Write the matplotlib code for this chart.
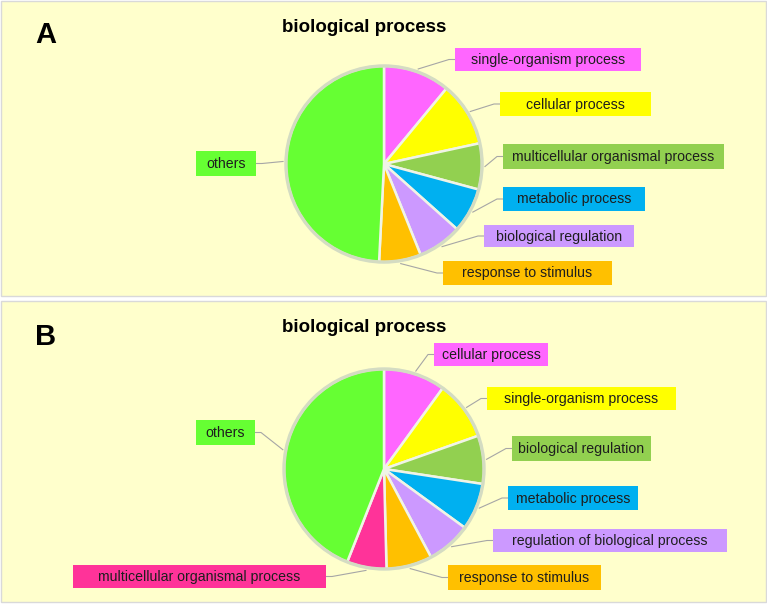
import matplotlib
matplotlib.use("Agg")
import matplotlib.pyplot as plt
import numpy as np
from matplotlib.patches import Rectangle, Circle

plt.rcParams['font.family'] = ['Liberation Sans', 'DejaVu Sans']

# ---------------- data ----------------
title = "biological process"
labels_a = ["single-organism process", "cellular process", "multicellular organismal process",
            "metabolic process", "biological regulation", "response to stimulus", "others"]
values_a = [11.0, 10.6, 7.6, 7.4, 7.3, 6.9, 49.2]
colors_a = ["#FF66FF", "#FFFF00", "#92D050", "#00B0F0", "#CC99FF", "#FFC000", "#66FF33"]

labels_b = ["cellular process", "single-organism process", "biological regulation",
            "metabolic process", "regulation of biological process", "response to stimulus",
            "multicellular organismal process", "others"]
values_b = [10.0, 9.6, 7.8, 7.6, 7.2, 7.4, 6.4, 44.0]
colors_b = ["#FF66FF", "#FFFF00", "#92D050", "#00B0F0", "#CC99FF", "#FFC000", "#FF3399", "#66FF33"]

# label box layout (pixel coords: x0, x1, y0, y1)
boxes_a = [(455, 641, 48, 71), (500, 651, 92, 116), (503, 724, 144, 169),
           (503, 645, 187, 211), (484, 634, 225, 247), (443, 612, 261, 285),
           (196, 256, 151, 176)]
boxes_b = [(434, 548, 343, 366), (487, 676, 387, 410), (512, 651, 436, 461),
           (508, 638, 486, 510), (493, 727, 529, 552), (448, 601, 565, 590),
           (73, 326, 565, 588), (196, 255, 420, 445)]

W, H = 767, 604
fig = plt.figure(figsize=(W / 100, H / 100), dpi=100)
fig.patch.set_facecolor("white")
bg = fig.add_axes([0, 0, 1, 1])
bg.set_xlim(0, W)
bg.set_ylim(H, 0)
bg.axis("off")

panel_face = "#FFFFCC"
bg.add_patch(Rectangle((1, 1), W - 2, 295, facecolor=panel_face, edgecolor="#D9D9D9", lw=1))
bg.add_patch(Rectangle((1, 301), W - 2, 301, facecolor=panel_face, edgecolor="#D9D9D9", lw=1))


def draw_panel(letter, ly, ty, cx, cy, r, values, colors, labels, boxes):
    bg.text(46, ly, letter, fontsize=21, fontweight="bold", ha="center", va="center", color="black")
    bg.text(364, ty, title, fontsize=13.5, fontweight="bold", ha="center", va="center", color="black")
    ax = fig.add_axes([(cx - r) / W, 1 - (cy + r) / H, 2 * r / W, 2 * r / H])
    wedges, _ = ax.pie(values, colors=colors, startangle=90, counterclock=False, radius=1,
                       wedgeprops=dict(edgecolor="#F0F4E6", linewidth=1.8))
    ax.add_patch(Circle((0, 0), 1.0, fill=False, edgecolor="#D4DCC2", lw=2.4))
    ax.set_xlim(-1.03, 1.03)
    ax.set_ylim(-1.03, 1.03)
    ax.set_aspect("auto")
    ax.axis("off")
    for w, lab, col, (x0, x1, y0, y1) in zip(wedges, labels, colors, boxes):
        mid = np.deg2rad((w.theta1 + w.theta2) / 2)
        px = cx + r * np.cos(mid)
        py = cy - r * np.sin(mid)
        bcy = (y0 + y1) / 2
        if x0 > cx:
            bx = x0
            kx = x0 - 6
        else:
            bx = x1
            kx = x1 + 6
        bg.plot([px, kx, bx], [py, bcy, bcy], color="#A6A6A6", lw=0.8, zorder=2)
        bg.add_patch(Rectangle((x0, y0), x1 - x0, y1 - y0, facecolor=col, edgecolor="none", zorder=3))
        bg.text((x0 + x1) / 2, bcy + 0.5, lab, fontsize=10.2, ha="center", va="center",
                color="#1E1E1E", zorder=4)


draw_panel("A", 35, 28, 384, 164, 101, values_a, colors_a, labels_a, boxes_a)
draw_panel("B", 337, 328, 384, 469, 103, values_b, colors_b, labels_b, boxes_b)

fig.savefig("out.png", dpi=100, facecolor="white")
